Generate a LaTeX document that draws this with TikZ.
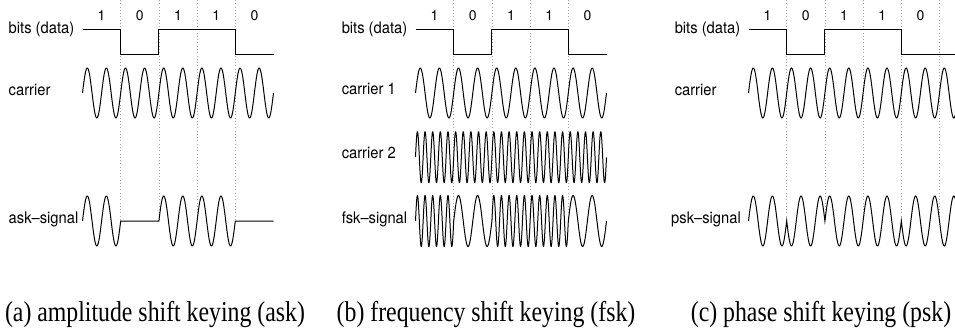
\documentclass[tikz,border=0pt]{standalone}
\usepackage{fontspec}
\setmainfont{Liberation Serif}
\setsansfont{TeX Gyre Heros}
\usepackage{tikz}

\tikzset{
  lbl/.style={font=\sffamily\fontsize{12}{12}\selectfont, xscale=0.92, inner sep=0pt},
  bitno/.style={font=\sffamily\fontsize{10.5}{10.5}\selectfont, inner sep=0pt},
  capt/.style={font=\rmfamily\fontsize{21.5}{21.5}\selectfont, xscale=0.83, inner sep=0pt},
  sig/.style={line width=0.75pt},
  bitline/.style={line width=0.7pt},
  bitsep/.style={dotted, gray!70, line width=0.45pt},
}

\begin{document}
\begin{tikzpicture}[x=0.75pt, y=-0.75pt]
    \clip (0,0) rectangle (955,332);

    % (a) amplitude shift keying
    \begin{scope}[shift={(82.5,0)}]
    \draw[bitsep] (38.2,0) -- (38.2,221); % bit borders
    \draw[bitsep] (76.4,0) -- (76.4,221);
    \draw[bitsep] (114.6,0) -- (114.6,221);
    \draw[bitsep] (152.8,0) -- (152.8,221);

    \node[bitno, anchor=base] (a1) at (19.1,20.7) {1};
    \node[bitno, anchor=base] (a2) at (57.3,20.7) {0};
    \node[bitno, anchor=base] (a3) at (95.5,20.7) {1};
    \node[bitno, anchor=base] (a4) at (133.7,20.7) {1};
    \node[bitno, anchor=base] (a5) at (171.9,20.7) {0};

    \draw[bitline] (0,29) -- (38.2,29) -- (38.2,54) -- (76.4,54) -- (76.4,29)
        -- (152.8,29) -- (152.8,54) -- (191,54); % data

    \draw[sig] plot[domain=0:191, samples=301] (\x,{93-25*sin(\x/19.1*360)}); % carrier

    \draw[sig] plot[domain=0:38.2, samples=61] (\x,{221-25*sin(\x/19.1*360)})
        -- (76.4,221)
        -- plot[domain=76.4:152.8, samples=121] (\x,{221-25*sin(\x/19.1*360)})
        -- (191,221); % ask

    \node[lbl, anchor=base west] (bits-a) at (-74,33.5) {bits (data)};
    \node[lbl, anchor=base west] (car-a) at (-74,95) {carrier};
    \node[lbl, anchor=base west] (ask-a) at (-74,223.5) {ask--signal};
    \end{scope}

    % (b) frequency shift keying
    \begin{scope}[shift={(415.5,0)}]
    \draw[bitsep] (38.2,0) -- (38.2,221);
    \draw[bitsep] (76.4,0) -- (76.4,221);
    \draw[bitsep] (114.6,0) -- (114.6,221);
    \draw[bitsep] (152.8,0) -- (152.8,221);

    \node[bitno, anchor=base] (b1) at (19.1,20.7) {1};
    \node[bitno, anchor=base] (b2) at (57.3,20.7) {0};
    \node[bitno, anchor=base] (b3) at (95.5,20.7) {1};
    \node[bitno, anchor=base] (b4) at (133.7,20.7) {1};
    \node[bitno, anchor=base] (b5) at (171.9,20.7) {0};

    \draw[bitline] (0,29) -- (38.2,29) -- (38.2,54) -- (76.4,54) -- (76.4,29)
        -- (152.8,29) -- (152.8,54) -- (191,54);

    \draw[sig] plot[domain=0:191, samples=301] (\x,{93-25*sin(\x/19.1*360)}); % carrier 1
    \draw[sig] plot[domain=0:191, samples=751] (\x,{157.2-25.5*sin(\x/7.64*360)}); % carrier 2

    \draw[sig] plot[domain=0:38.2, samples=151] (\x,{221-25.5*sin(\x/7.64*360)})
        -- plot[domain=38.2:76.4, samples=61] (\x,{221-25.5*sin(\x/19.1*360)})
        -- plot[domain=76.4:152.8, samples=301] (\x,{221-25.5*sin(\x/7.64*360)})
        -- plot[domain=152.8:191, samples=61] (\x,{221-25.5*sin(\x/19.1*360)}); % fsk

    \node[lbl, anchor=base west] (bits-b) at (-74,33.5) {bits (data)};
    \node[lbl, anchor=base west] (car1-b) at (-74,94.5) {carrier 1};
    \node[lbl, anchor=base west] (car2-b) at (-74,158) {carrier 2};
    \node[lbl, anchor=base west] (fsk-b) at (-74,223.5) {fsk--signal};
    \end{scope}

    % (c) phase shift keying
    \begin{scope}[shift={(748.5,0)}]
    \draw[bitsep] (38.2,0) -- (38.2,221);
    \draw[bitsep] (76.4,0) -- (76.4,221);
    \draw[bitsep] (114.6,0) -- (114.6,221);
    \draw[bitsep] (152.8,0) -- (152.8,221);
    \draw[bitsep] (191,0) -- (191,221);

    \node[bitno, anchor=base] (c1) at (19.1,20.7) {1};
    \node[bitno, anchor=base] (c2) at (57.3,20.7) {0};
    \node[bitno, anchor=base] (c3) at (95.5,20.7) {1};
    \node[bitno, anchor=base] (c4) at (133.7,20.7) {1};
    \node[bitno, anchor=base] (c5) at (171.9,20.7) {0};

    \draw[bitline] (0,29) -- (38.2,29) -- (38.2,54) -- (76.4,54) -- (76.4,29)
        -- (152.8,29) -- (152.8,54) -- (215,54);

    \draw[sig] plot[domain=0:215, samples=331] (\x,{93-25*sin(\x/19.1*360)}); % carrier

    \draw[sig] plot[domain=0:38.2, samples=61] (\x,{221-25*sin(\x/19.1*360)})
        -- plot[domain=38.2:76.4, samples=61] (\x,{221+25*sin(\x/19.1*360)})
        -- plot[domain=76.4:152.8, samples=121] (\x,{221-25*sin(\x/19.1*360)})
        -- plot[domain=152.8:215, samples=101] (\x,{221+25*sin(\x/19.1*360)}); % psk

    \node[lbl, anchor=base west] (bits-c) at (-74,33.5) {bits (data)};
    \node[lbl, anchor=base west] (car-c) at (-74,95) {carrier};
    \node[lbl, anchor=base east] (psk-c) at (-7.5,223.5) {psk--signal};
    \end{scope}

    % captions
    \node[capt, anchor=base] (cap-a) at (155,321.7) {(a) amplitude shift keying (ask)};
    \node[capt, anchor=base] (cap-b) at (486,321.7) {(b) frequency shift keying (fsk)};
    \node[capt, anchor=base] (cap-c) at (821,321.7) {(c) phase shift keying (psk)};
\end{tikzpicture}
\end{document}
